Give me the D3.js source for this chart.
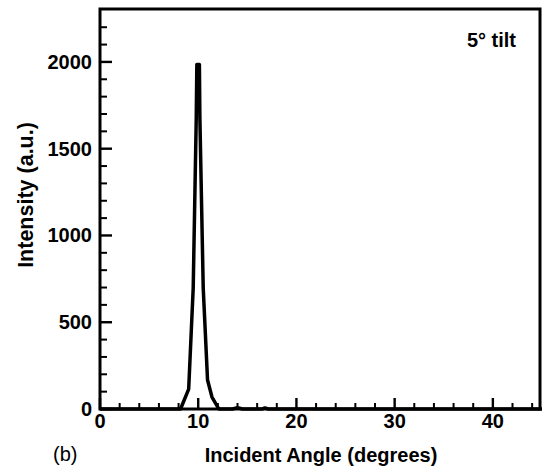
<!DOCTYPE html>
<html>
<head>
<meta charset="utf-8">
<script src="https://cdn.jsdelivr.net/npm/d3@7"></script>
<style>
  html, body { margin: 0; padding: 0; background: #fff; }
  svg { display: block; }
  text { font-family: "Liberation Sans", Arial, Helvetica, sans-serif; }
</style>
</head>
<body>
<svg id="chart" width="542" height="472"></svg>
<script>
// ---- data ----
const angles    = [0, 8.2, 9.03, 9.49, 9.80, 9.86, 10.12, 10.17, 10.51, 10.95, 11.4, 12.1, 13.5, 14.0, 14.5, 16.5, 16.8, 17.1, 45];
const intensity = [0, 0,   115,  697,  1677, 1985, 1985,  1677,  697,   167,   69,   0,    0,    8,    0,    0,    6,    0,    0];
const xMajorTicks = [0, 10, 20, 30, 40];
const xMinorTicks = [2, 4, 6, 8, 12, 14, 16, 18, 22, 24, 26, 28, 32, 34, 36, 38, 42, 44];
const yMajorTicks = [0, 500, 1000, 1500, 2000];
const yMinorTicks = [100, 200, 300, 400, 600, 700, 800, 900, 1100, 1200, 1300, 1400, 1600, 1700, 1800, 1900, 2100, 2200];
const xTitle = "Incident Angle (degrees)";
const yTitle = "Intensity (a.u.)";
const panelLabel = "(b)";
const annotation = "5\u00B0 tilt";

const svg = d3.select("#chart");
const mLeft = 100, mRight = 540, mTop = 9, mBottom = 409;

const x = d3.scaleLinear().domain([0, 44.8]).range([mLeft, mRight]);
const y = d3.scaleLinear().domain([0, 2305]).range([mBottom, mTop]);

// data line
const pts = angles.map((a, i) => [a, intensity[i]]);
svg.append("path")
  .datum(pts)
  .attr("fill", "none")
  .attr("stroke", "#000")
  .attr("stroke-width", 3.5)
  .attr("stroke-linejoin", "round")
  .attr("d", d3.line().x(d => x(d[0])).y(d => y(d[1])));

// frame
svg.append("rect")
  .attr("x", mLeft).attr("y", mTop)
  .attr("width", mRight - mLeft).attr("height", mBottom - mTop)
  .attr("fill", "none").attr("stroke", "#000").attr("stroke-width", 3);

// ticks drawn as filled rectangles (inward)
const tickG = svg.append("g").attr("fill", "#000");
tickG.selectAll("rect.xminor").data(xMinorTicks).join("rect")
  .attr("class", "xminor")
  .attr("x", d => x(d) - 1).attr("width", 2)
  .attr("y", mBottom - 6).attr("height", 6);
tickG.selectAll("rect.xmajor").data(xMajorTicks).join("rect")
  .attr("class", "xmajor")
  .attr("x", d => x(d) - 1.2).attr("width", 2.4)
  .attr("y", mBottom - 11).attr("height", 11);
tickG.selectAll("rect.yminor").data(yMinorTicks).join("rect")
  .attr("class", "yminor")
  .attr("x", mLeft).attr("width", 7)
  .attr("y", d => y(d) - 1).attr("height", 2);
tickG.selectAll("rect.ymajor").data(yMajorTicks).join("rect")
  .attr("class", "ymajor")
  .attr("x", mLeft).attr("width", 12)
  .attr("y", d => y(d) - 1.2).attr("height", 2.4);

// tick labels
svg.append("g").selectAll("text").data(xMajorTicks).join("text")
  .attr("x", d => x(d)).attr("y", mBottom + 5).attr("dy", "0.71em")
  .attr("text-anchor", "middle").attr("font-size", 20).attr("font-weight", "bold")
  .text(d => d3.format("d")(d));
svg.append("g").selectAll("text").data(yMajorTicks).join("text")
  .attr("x", mLeft - 8).attr("y", d => y(d)).attr("dy", "0.35em")
  .attr("text-anchor", "end").attr("font-size", 20).attr("font-weight", "bold")
  .text(d => d3.format("d")(d));

// titles
svg.append("text")
  .attr("x", (mLeft + mRight) / 2 + 1).attr("y", 462)
  .attr("text-anchor", "middle").attr("font-size", 20).attr("font-weight", "bold")
  .text(xTitle);
svg.append("text")
  .attr("transform", `translate(33,${(mTop + mBottom) / 2 - 14}) rotate(-90)`)
  .attr("text-anchor", "middle").attr("font-size", 21.5).attr("font-weight", "bold")
  .text(yTitle);
svg.append("text")
  .attr("x", 53).attr("y", 461)
  .attr("font-family", "'Liberation Serif', 'Times New Roman', serif")
  .attr("font-size", 20)
  .text(panelLabel);
svg.append("text")
  .attr("x", 516).attr("y", 47)
  .attr("text-anchor", "end").attr("font-size", 20).attr("font-weight", "bold")
  .text(annotation);
</script>
</body>
</html>
